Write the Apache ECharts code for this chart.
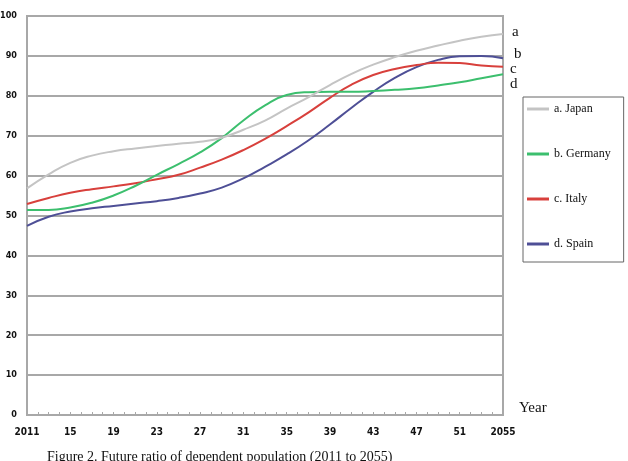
<!DOCTYPE html>
<html>
<head>
<meta charset="utf-8">
<script src="https://cdn.jsdelivr.net/npm/echarts@6/dist/echarts.min.js"></script>
<style>html,body{margin:0;padding:0;background:#fff}#c{width:628px;height:461px}</style>
</head>
<body>
<div id="c"></div>
<script>
const years = [2011,2013,2015,2017,2019,2021,2023,2025,2027,2029,2031,2033,2035,2037,2039,2041,2043,2045,2047,2049,2051,2053,2055];
const japan   = [56.8,60.3,63.2,65.0,66.1,66.8,67.4,68.0,68.5,69.5,71.5,73.8,76.8,79.6,82.7,85.5,87.8,89.7,91.3,92.6,93.8,94.8,95.5];
const germany = [51.4,51.4,52.0,53.2,55.0,57.4,60.2,62.9,65.8,69.4,73.8,77.6,80.2,80.9,81.0,81.0,81.2,81.5,81.9,82.6,83.4,84.4,85.4];
const italy   = [52.9,54.4,55.7,56.6,57.3,58.1,59.1,60.2,62.0,64.0,66.4,69.2,72.4,75.8,79.5,82.8,85.2,86.7,87.7,88.3,88.2,87.6,87.3];
const spain   = [47.4,49.7,51.0,51.8,52.4,53.0,53.6,54.4,55.5,57.0,59.3,62.2,65.3,68.8,72.8,77.0,81.0,84.5,87.2,89.0,89.9,90.0,89.4];
const seriesNames = ['a. Japan','b. Germany','c. Italy','d. Spain'];
const xTickLabels = ['2011','15','19','23','27','31','35','39','43','47','51','2055'];
const yTickLabels = ['0','10','20','30','40','50','60','70','80','90','100'];
const endLabels = ['a','b','c','d'];

const colors = ['#c4c4c4','#3cbf6e','#d8403c','#4e4f96'];
const pair = arr => years.map((y,i)=>[y,arr[i]]);
const vals = [japan,germany,italy,spain];

const chart = echarts.init(document.getElementById('c'), null, {renderer:'canvas'});
const tickFont = {fontFamily:'DejaVu Sans Condensed', fontWeight:'bold', color:'#111'};
const serif = 'Liberation Serif';
chart.setOption({
  animation:false,
  backgroundColor:'#fff',
  grid:{left:27,right:125,top:16,bottom:46,containLabel:false,outerBoundsMode:'none',
    show:true,borderColor:'#a8a8a8',borderWidth:2,backgroundColor:'transparent'},
  xAxis:{type:'value',min:2011,max:2055,interval:1,
    axisLine:{show:true,lineStyle:{color:'#a8a8a8',width:2}},
    axisTick:{show:true,inside:true,length:3,lineStyle:{color:'#a8a8a8',width:1}},
    splitLine:{show:false},
    axisLabel:Object.assign({margin:12,fontSize:10,showMinLabel:true,showMaxLabel:true,
      formatter:v=>{const k=Math.round(v)-2011; return k%4===0 ? xTickLabels[k/4] : '';}},tickFont)
  },
  yAxis:{type:'value',min:0,max:100,interval:10,
    axisLine:{show:true,lineStyle:{color:'#a8a8a8',width:2}},
    axisTick:{show:false},
    splitLine:{show:true,lineStyle:{color:'#a8a8a8',width:2}},
    axisLabel:Object.assign({margin:10,fontSize:9,formatter:v=>yTickLabels[Math.round(v/10)]},tickFont)
  },
  legend:{orient:'vertical',left:523,top:97,
    data:seriesNames.map(n=>({name:n,icon:'rect'})),
    itemWidth:22,itemHeight:3,itemGap:33,
    padding:[6,13,12,4],
    borderColor:'#666',borderWidth:1,
    textStyle:{fontFamily:serif,fontSize:12,color:'#111'}
  },
  series:seriesNames.map((n,i)=>({
    name:n,type:'line',data:pair(vals[i]),smooth:true,showSymbol:false,symbol:'none',
    lineStyle:{color:colors[i],width:2},itemStyle:{color:colors[i]},z:2+(3-i)
  })),
  graphic:[
    {type:'text',left:512,top:25,style:{text:endLabels[0],font:'15px '+serif,fill:'#111'}},
    {type:'text',left:514,top:47,style:{text:endLabels[1],font:'15px '+serif,fill:'#111'}},
    {type:'text',left:510,top:62,style:{text:endLabels[2],font:'15px '+serif,fill:'#111'}},
    {type:'text',left:510,top:77,style:{text:endLabels[3],font:'15px '+serif,fill:'#111'}},
    {type:'text',left:519,top:401,style:{text:'Year',font:'15px '+serif,fill:'#111'}},
    {type:'text',left:47,top:450,style:{text:'Figure 2. Future ratio of dependent population (2011 to 2055)',font:'14px '+serif,fill:'#111'}}
  ]
});
</script>
</body>
</html>
